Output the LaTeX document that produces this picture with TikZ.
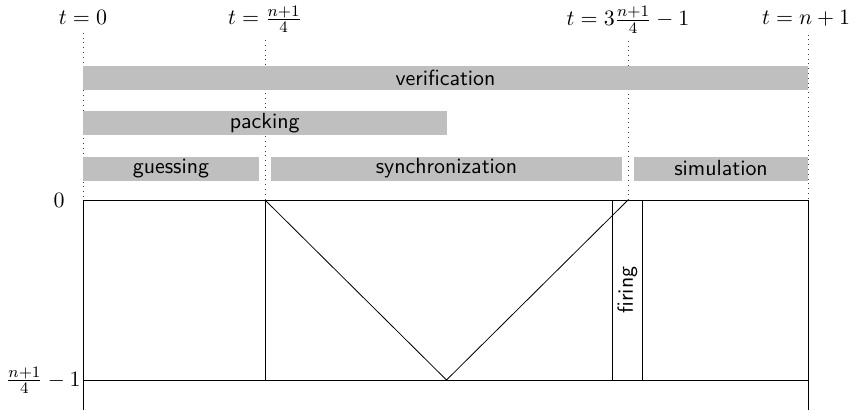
\documentclass[tikz,border=0pt,11pt]{standalone}
\begin{document}
\begin{tikzpicture}[x=0.5pt,y=-0.5pt,
  bar/.style={fill=black!25, inner sep=0pt, font=\sffamily, minimum height=12pt},
  tlabel/.style={anchor=base},
  guide/.style={dotted, black!75},
  edge/.style={black, line width=0.4pt}]
\useasboundingbox (0,0) rectangle (854,412);
% time labels
\node[tlabel] (t0) at (83,25) {$t=0$};
\node[tlabel] (t1) at (265,25) {$t=\frac{n+1}{4}$};
\node[tlabel] (t2) at (628,25.5) {$t=3\frac{n+1}{4}-1$};
\node[tlabel] (t3) at (806,25) {$t=n+1$};
% corners / key points
\coordinate (p0) at (83,200);
\coordinate (p1) at (265,200);
\coordinate (p2) at (628,200);
\coordinate (p3) at (808,200);
\coordinate (q0) at (83,380);
\coordinate (q1) at (265,380);
\coordinate (qm) at (446.5,380);
\coordinate (q3) at (808,380);
\coordinate (l0) at (83,410);
\coordinate (l3) at (808,410);
\coordinate (fa) at (612.5,200);
\coordinate (fb) at (642.5,200);
\coordinate (fc) at (612.5,380);
\coordinate (fd) at (642.5,380);
% dotted guides
\draw[guide] (t0.south) -- (p0);
\draw[guide] (t1.south) -- (p1);
\draw[guide] (t2.south) -- (p2);
\draw[guide] (t3.south -| p3) -- (p3);
% phase bars
\node[bar, minimum width=362.5pt] (verif) at (445.5,78) {verification};
\node[bar, minimum width=181.75pt] (pack) at (264.75,123) {packing};
\node[bar, minimum width=88pt] (guess) at (171,168.5) {guessing};
\node[bar, minimum width=175.5pt] (sync) at (446.5,168.5) {synchronization};
\node[bar, minimum width=87pt] (simu) at (721,168.5) {simulation};
% axis labels
\node[anchor=east, inner sep=0pt] (y0) at (65,200) {$0$};
\node[anchor=base east, inner sep=0pt] (y1) at (81,386) {$\frac{n+1}{4}-1$};
% space-time diagram
\draw[edge] (p0) -- (p3);
\draw[edge] (q0) -- (q3);
\draw[edge] (p0) -- (l0);
\draw[edge] (p3) -- (l3);
\draw[edge] (p1) -- (q1);
\draw[edge] (p1) -- (qm) -- (p2);
\draw[edge] (fa) -- (fc);
\draw[edge] (fb) -- (fd);
\node[rotate=90, font=\sffamily] (fire) at (627.5,290) {firing};
\end{tikzpicture}
\end{document}
